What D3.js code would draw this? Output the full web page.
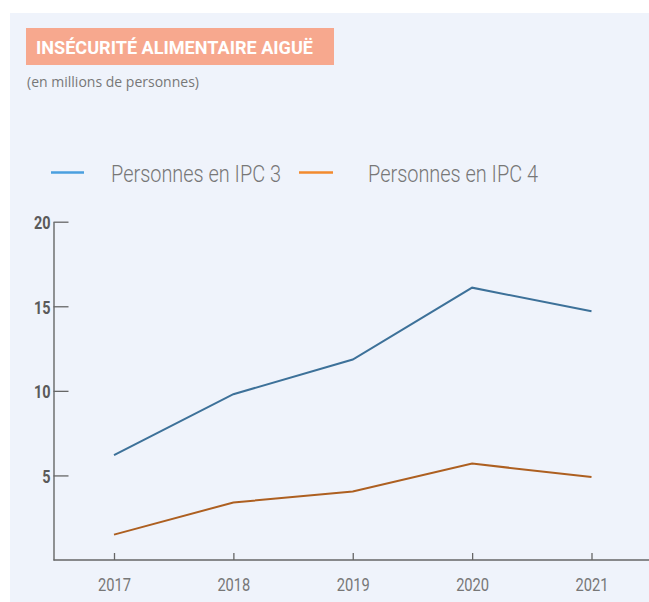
<!DOCTYPE html>
<html>
<head>
<meta charset="utf-8">
<script src="https://cdn.jsdelivr.net/npm/d3@7/dist/d3.min.js"></script>
<style>
  body { margin: 0; background: #fff; }
  svg { display: block; }
</style>
</head>
<body>
<div id="chart"></div>
<script>
// data (millions of people)
let years = [2017, 2018, 2019, 2020, 2021];
let ipc3 = [6.2, 9.8, 11.85, 16.1, 14.7];
let ipc4 = [1.5, 3.4, 4.05, 5.7, 4.9];
let seriesNames = ["Personnes en IPC 3", "Personnes en IPC 4"];
let yTicks = [5, 10, 15, 20];

let width = 649, height = 602;

let svg = d3.select("#chart")
  .append("svg")
  .attr("width", width)
  .attr("height", height);

// light panel behind everything
svg.append("rect")
  .attr("x", 10).attr("y", 13)
  .attr("width", width - 10).attr("height", height - 13)
  .style("fill", "#eff3fb");

// title box
svg.append("rect")
  .attr("x", 26).attr("y", 28)
  .attr("width", 308).attr("height", 37)
  .style("fill", "#f7a88e");

svg.append("text")
  .attr("x", 36).attr("y", 53.5)
  .attr("textLength", 277)
  .attr("lengthAdjust", "spacingAndGlyphs")
  .style("font-family", "Roboto, sans-serif")
  .style("font-weight", "bold")
  .style("font-size", "19px")
  .style("fill", "#fff")
  .text("INSÉCURITÉ ALIMENTAIRE AIGUË");

svg.append("text")
  .attr("x", 27).attr("y", 86.5)
  .attr("textLength", 172)
  .attr("lengthAdjust", "spacingAndGlyphs")
  .style("font-family", "'Open Sans', sans-serif")
  .style("font-size", "14px")
  .style("fill", "#777")
  .text("(en millions de personnes)");

// scales
let x = d3.scaleLinear().domain([2017, 2021]).range([114, 591.5]);
let y = d3.scaleLinear().domain([0, 20]).range([560, 221.7]);

// legend
let legendColors = ["#4a9fdf", "#f28a2e"];
let legendX = [[51, 84, 111], [299, 333, 368]];
seriesNames.forEach((name, i) => {
  svg.append("line")
    .attr("x1", legendX[i][0]).attr("x2", legendX[i][1])
    .attr("y1", 172.5).attr("y2", 172.5)
    .style("stroke", legendColors[i])
    .style("stroke-width", 2.5);
  svg.append("text")
    .attr("x", legendX[i][2]).attr("y", 181.8)
    .attr("textLength", 170)
    .attr("lengthAdjust", "spacingAndGlyphs")
    .style("font-family", "Roboto, sans-serif")
    .style("font-weight", 300)
    .style("font-size", "23px")
    .style("fill", "#777")
    .text(name);
});

// y axis, ticks pointing into the plot
let yAxis = svg.append("g")
  .attr("transform", "translate(53.5,0)")
  .call(d3.axisLeft(y).tickValues(yTicks.concat([0])).tickSizeInner(-15).tickSizeOuter(0).tickPadding(3)
    .tickFormat(d => d === 0 ? "" : d));
yAxis.select(".domain").style("stroke", "#666").style("stroke-width", 1.4);
yAxis.selectAll(".tick line").style("stroke", "#666").style("stroke-width", 1.3)
  .filter(d => d === 0).remove();
yAxis.selectAll(".tick text")
  .attr("textLength", d => String(d).length * 8.3)
  .attr("lengthAdjust", "spacingAndGlyphs")
  .attr("dy", "0.36em")
  .style("font-family", "Roboto, sans-serif")
  .style("font-weight", "bold")
  .style("font-size", "19px")
  .style("fill", "#5a5a5a");

// x axis, ticks pointing up
let xAxis = svg.append("g")
  .attr("transform", "translate(0,560)")
  .call(d3.axisBottom(x).tickValues(years).tickSizeInner(-7).tickSizeOuter(0).tickPadding(17.5)
    .tickFormat(d3.format("d")));
xAxis.select(".domain").remove();
xAxis.selectAll(".tick line").style("stroke", "#666").style("stroke-width", 1.3);
xAxis.selectAll(".tick text")
  .attr("textLength", 33)
  .attr("lengthAdjust", "spacingAndGlyphs")
  .style("font-family", "Roboto, sans-serif")
  .style("font-size", "19px")
  .style("fill", "#777");

// base line runs across the whole panel
svg.append("line")
  .attr("x1", 53.5).attr("x2", width)
  .attr("y1", 560).attr("y2", 560)
  .style("stroke", "#666").style("stroke-width", 1.4);

// series lines
let line = d3.line()
  .x((d, i) => x(years[i]))
  .y(d => y(d));

svg.append("path")
  .datum(ipc3)
  .attr("d", line)
  .style("fill", "none")
  .style("stroke", "#3d7199")
  .style("stroke-width", 2);

svg.append("path")
  .datum(ipc4)
  .attr("d", line)
  .style("fill", "none")
  .style("stroke", "#ad5f20")
  .style("stroke-width", 2);
</script>
</body>
</html>
